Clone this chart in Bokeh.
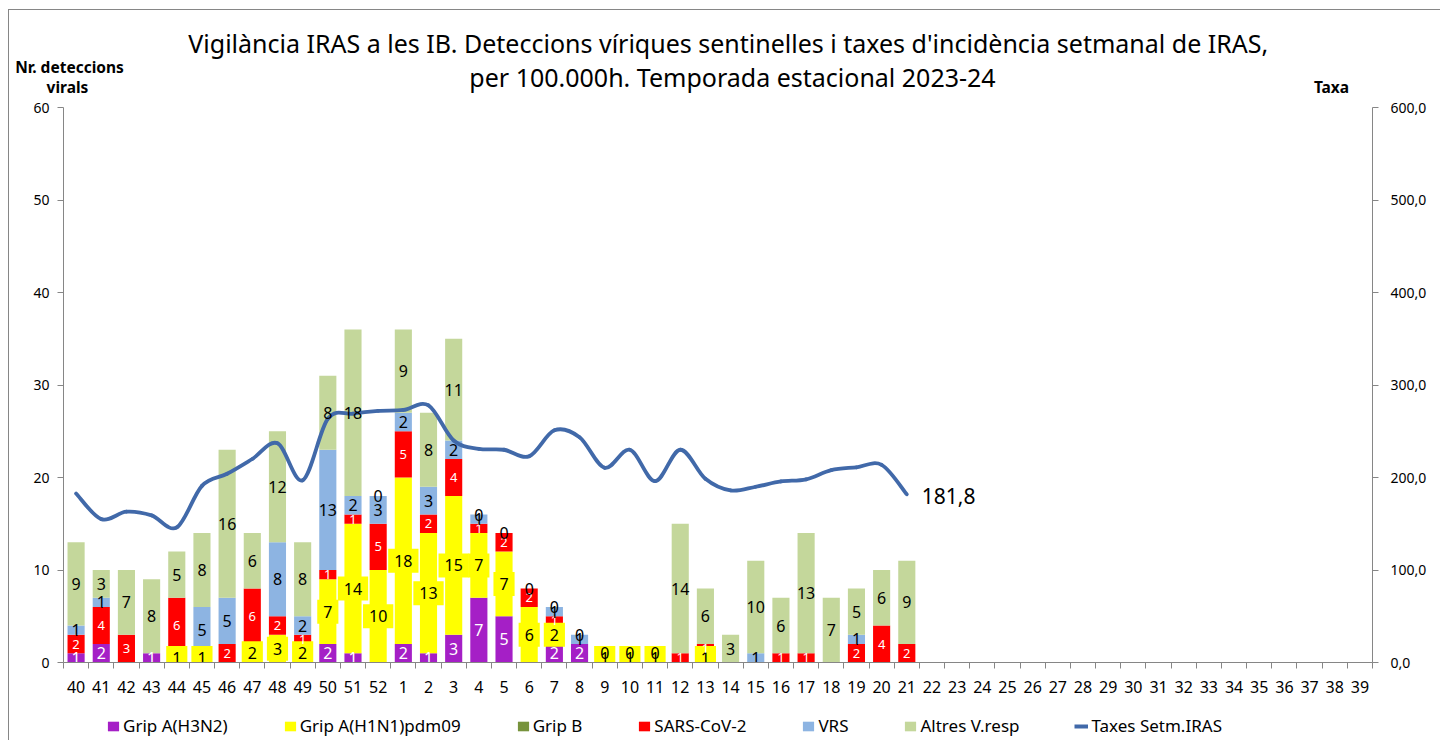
from bokeh.plotting import figure
from bokeh.layouts import column
from bokeh.models import (Range1d, LinearAxis, FixedTicker, Label, Legend, LegendItem,
                          ColumnDataSource)
from bokeh.core.properties import value
from bokeh.embed import file_html
from bokeh.resources import INLINE

weeks = ["40", "41", "42", "43", "44", "45", "46", "47", "48", "49", "50", "51", "52",
         "1", "2", "3", "4", "5", "6", "7", "8", "9", "10", "11", "12", "13", "14", "15",
         "16", "17", "18", "19", "20", "21", "22", "23", "24", "25", "26", "27", "28", "29",
         "30", "31", "32", "33", "34", "35", "36", "37", "38", "39"]

N = None
h3n2 = [1, 2, N, 1, N, N, N, N, N, N, 2, 1, N, 2, 1, 3, 7, 5, N, 2, 2, N, N, N, N, N, N, N, N, N, N, N, N, N]
h1n1 = [N, N, N, N, 1, 1, N, 2, 3, 2, 7, 14, 10, 18, 13, 15, 7, 7, 6, 2, N, 1, 1, 1, N, 1, N, N, N, N, N, N, N, N]
gripb = [N] * 34
sars = [2, 4, 3, N, 6, N, 2, 6, 2, 1, 1, 1, 5, 5, 2, 4, 1, 2, 2, 1, N, N, N, N, 1, 1, N, N, 1, 1, N, 2, 4, 2]
vrs = [1, 1, N, N, N, 5, 5, N, 8, 2, 13, 2, 3, 2, 3, 2, 1, N, N, 1, 1, N, N, N, N, N, N, 1, N, N, N, 1, N, N]
altres = [9, 3, 7, 8, 5, 8, 16, 6, 12, 8, 8, 18, 0, 9, 8, 11, 0, 0, 0, 0, 0, 0, 0, 0, 14, 6, 3, 10, 6, 13, 7, 5, 6, 9]
taxes = [182.7, 155.0, 163.0, 159.0, 146.0, 191.0, 204.0, 220.0, 237.0, 197.0, 263.5, 269.0,
         272.0, 273.0, 278.0, 240.0, 231.0, 230.0, 223.0, 251.0, 243.6, 210.5, 230.0, 196.0,
         230.0, 198.6, 186.0, 190.0, 195.7, 198.0, 208.0, 211.0, 213.7, 181.8]

series_names = ["Grip A(H3N2)", "Grip A(H1N1)pdm09", "Grip B", "SARS-CoV-2", "VRS", "Altres V.resp"]
line_name = "Taxes Setm.IRAS"
series_vals = [h3n2, h1n1, gripb, sars, vrs, altres]
colors = ["#A51FC6", "#FFFF00", "#77933C", "#FF0000", "#8DB4E2", "#C4D79B"]
label_colors = ["white", "black", "black", "white", "black", "black"]
label_sizes = ["16px", "16px", "16px", "13px", "16px", "16px"]
line_color = "#4169A9"

title_lines = ["Vigilància IRAS  a les IB. Deteccions víriques sentinelles i taxes d'incidència setmanal de IRAS,",
               "per 100.000h. Temporada estacional 2023-24"]
left_title = ["Nr. deteccions", "virals"]
right_title = "Taxa"

FONT = "Noto Sans"
GRAY = "#868686"
W = 1440
HEAD_H = 97
TOP_B = 10
BOT_B = 40
MAIN_H = TOP_B + 555 + BOT_B
LEG_H = 740 - HEAD_H - MAIN_H

nw = len(weeks)
xs = list(range(nw))


def pad(v):
    return [(0 if a is None else a) for a in v] + [0] * (nw - len(v))


def bare(height, xr, yr):
    f = figure(width=W, height=height, output_backend="svg", toolbar_location=None,
               x_range=xr, y_range=yr, min_border=0, x_axis_type=None, y_axis_type=None)
    f.outline_line_color = None
    f.xgrid.visible = False
    f.ygrid.visible = False
    f.background_fill_color = None
    f.border_fill_color = None
    return f


# ---------------- header (titles) ----------------
hd = bare(HEAD_H, Range1d(0, W), Range1d(HEAD_H, 0))
hd.text(x=[731, 732], y=[42, 76], text=title_lines, text_align="center", text_baseline="middle",
        text_font=value(FONT), text_font_size=value("25px"), text_color="black")
hd.text(x=[69, 67, 1331], y=[66, 86, 86], text=left_title + [right_title], text_align="center",
        text_baseline="middle", text_font=value(FONT), text_font_size=value("15.5px"),
        text_font_style="bold", text_color="black")

# ---------------- main chart ----------------
data = {"x": xs}
keys = ["s%d" % i for i in range(len(series_vals))]
for k, v in zip(keys, series_vals):
    data[k] = pad(v)
src = ColumnDataSource(data)

p = figure(width=W, height=MAIN_H, output_backend="svg", toolbar_location=None,
           x_range=Range1d(-0.5, nw - 0.5), y_range=Range1d(0, 60),
           min_border_left=63, min_border_right=68, min_border_top=TOP_B,
           min_border_bottom=BOT_B, x_axis_type=None, y_axis_type=None)
p.outline_line_color = None
p.background_fill_color = None
p.border_fill_color = None
p.extra_y_ranges = {"taxa": Range1d(0, 600)}

xaxis = LinearAxis(ticker=FixedTicker(ticks=xs, minor_ticks=[i - 0.5 for i in range(nw + 1)]),
                   major_label_overrides={i: w for i, w in enumerate(weeks)})
xaxis.axis_line_color = GRAY
xaxis.major_tick_line_color = None
xaxis.major_tick_out = 6
xaxis.minor_tick_line_color = GRAY
xaxis.minor_tick_out = 6
xaxis.minor_tick_in = 0
xaxis.major_label_standoff = 12
xaxis.major_label_text_font = FONT
xaxis.major_label_text_font_size = "16px"
xaxis.major_label_text_color = "black"
p.add_layout(xaxis, "below")

yl_ticks = [0, 10, 20, 30, 40, 50, 60]
yaxis = LinearAxis(ticker=FixedTicker(ticks=yl_ticks, minor_ticks=[]))
yaxis.axis_line_color = GRAY
yaxis.major_tick_line_color = GRAY
yaxis.major_tick_out = 6
yaxis.major_tick_in = 0
yaxis.major_label_standoff = 8
yaxis.major_label_text_font = FONT
yaxis.major_label_text_font_size = "14px"
yaxis.major_label_text_color = "black"
p.add_layout(yaxis, "left")

yr_ticks = [0, 100, 200, 300, 400, 500, 600]
yaxis2 = LinearAxis(y_range_name="taxa", ticker=FixedTicker(ticks=yr_ticks, minor_ticks=[]),
                    major_label_overrides={t: ("%.1f" % t).replace(".", ",") for t in yr_ticks})
yaxis2.axis_line_color = GRAY
yaxis2.major_tick_line_color = GRAY
yaxis2.major_tick_out = 6
yaxis2.major_tick_in = 0
yaxis2.major_label_standoff = 12
yaxis2.major_label_text_font = FONT
yaxis2.major_label_text_font_size = "14px"
yaxis2.major_label_text_color = "black"
p.add_layout(yaxis2, "right")

p.ygrid.ticker = FixedTicker(ticks=yl_ticks)
p.ygrid.grid_line_color = "#A0A0A0"
p.xgrid.grid_line_color = None

p.vbar_stack(keys, x="x", width=0.68, color=colors, line_color=None, source=src)

# smoothed rate line (Catmull-Rom -> Bezier segments)
n = len(taxes)
tx = xs[:n]
x0, y0, x1, y1, cx0, cy0, cx1, cy1 = [], [], [], [], [], [], [], []
for i in range(n - 1):
    a = max(i - 1, 0)
    d = min(i + 2, n - 1)
    x0.append(tx[i]); y0.append(taxes[i])
    x1.append(tx[i + 1]); y1.append(taxes[i + 1])
    cx0.append(tx[i] + (tx[i + 1] - tx[a]) / 6.0)
    cy0.append(taxes[i] + (taxes[i + 1] - taxes[a]) / 6.0)
    cx1.append(tx[i + 1] - (tx[d] - tx[i]) / 6.0)
    cy1.append(taxes[i + 1] - (taxes[d] - taxes[i]) / 6.0)
p.bezier(x0=x0, y0=y0, x1=x1, y1=y1, cx0=cx0, cy0=cy0, cx1=cx1, cy1=cy1,
         line_color=line_color, line_width=3.8, line_cap="round", y_range_name="taxa")

# data labels
for si, (vals, col, fs) in enumerate(zip(series_vals, label_colors, label_sizes)):
    lx, ly, lt = [], [], []
    for i, v in enumerate(vals):
        if v is None:
            continue
        bottom = sum((series_vals[k][i] or 0) for k in range(si))
        lx.append(i)
        ly.append(bottom + v / 2.0)
        lt.append(str(v))
    if not lx:
        continue
    kw = {}
    if si == 1:
        kw = dict(background_fill_color="#FFFF00", padding=6)
    p.text(x=lx, y=ly, text=lt, text_align="center", text_baseline="middle",
           text_font=value(FONT), text_font_size=value(fs), text_color=col, **kw)

p.add_layout(Label(x=n - 1, y=taxes[-1], y_range_name="taxa",
                   text=("%.1f" % taxes[-1]).replace(".", ","),
                   x_offset=15, y_offset=-2, text_baseline="middle", text_font=FONT,
                   text_font_size="21px", text_color="black"))

# ---------------- legend strip ----------------
lg = bare(LEG_H, Range1d(-0.5, nw - 0.5), Range1d(0, 60))
lg.extra_y_ranges = {"taxa": Range1d(0, 600)}
proxies = lg.vbar_stack(keys, x="x", width=0.68, color=colors, line_color=None, source=src,
                        visible=False)
proxy_line = lg.line(x=tx, y=taxes, line_color=line_color, line_width=4, y_range_name="taxa",
                     visible=False)
items = [LegendItem(label=nm, renderers=[r]) for nm, r in zip(series_names, proxies)]
items.append(LegendItem(label=line_name, renderers=[proxy_line]))
legend = Legend(items=items, orientation="horizontal", location=(106, 3),
                label_text_font=FONT, label_text_font_size="17px", label_text_color="black",
                glyph_width=14, glyph_height=12, label_standoff=3, spacing=55,
                padding=1, margin=0, border_line_color=None, background_fill_alpha=0,
                inactive_fill_alpha=0)
lg.add_layout(legend, "center")

frame_css = {
    "background-color": "white",
    "background-image": "linear-gradient(#868686, #868686), linear-gradient(#868686, #868686)",
    "background-position": "8px 9px, 8px 9px",
    "background-size": "1px 100%, 100% 1px",
    "background-repeat": "no-repeat, no-repeat",
}
layout = column(hd, column(p), column(lg), styles=frame_css)
open("out.html", "w").write(file_html(layout, INLINE))
